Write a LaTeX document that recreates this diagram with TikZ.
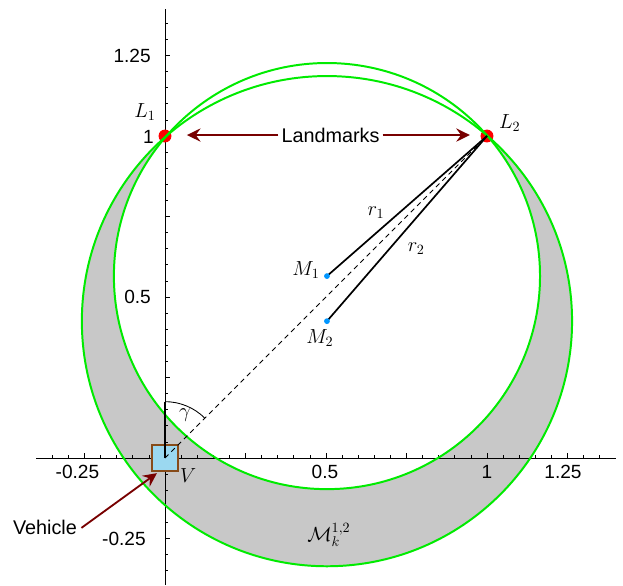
\documentclass[tikz,border=0pt]{standalone}
\usepackage{fontspec}
\newfontfamily\axisfont{Liberation Sans}
\usetikzlibrary{calc,arrows.meta}
\usepackage[dvipsnames]{xcolor}
\definecolor{crescent}{RGB}{200,200,200}
\definecolor{ringgreen}{RGB}{0,235,0}
\definecolor{pointred}{RGB}{120,0,0}
\definecolor{vehfill}{RGB}{155,216,240}
\definecolor{vehedge}{RGB}{135,75,25}
\definecolor{mdot}{RGB}{0,150,255}

\begin{document}
\begin{tikzpicture}[x=8cm,y=8cm,
    ring/.style={ringgreen,line width=1.4pt},
    pointer/.style={pointred,line width=1.3pt,-{Stealth[length=3.4mm,width=3.3mm,inset=1.2mm]}},
    ticklab/.style={font=\axisfont\fontsize{13.5}{16}\selectfont,inner sep=0pt},
    sanslab/.style={font=\axisfont\fontsize{14}{16}\selectfont},
    mathlab/.style={font=\fontsize{14.4}{17}\selectfont,inner sep=0pt}]
        \useasboundingbox (-0.5124,-0.3944) rectangle (1.4224,1.4224);
        \coordinate (v) at (0,0);
        \coordinate (l1) at (0,1);
        \coordinate (l2) at (1,1);
        \coordinate (m1) at (0.503,0.565);
        \coordinate (m2) at (0.503,0.425);
        \coordinate (g) at (0,0.175);
        \coordinate (t1) at (0.068,1.003);
        \coordinate (t2) at (0.947,1.003);
        \coordinate (t3) at (-0.025,-0.047);
        \fill[crescent] (m2) circle (0.7612);
        \fill[white] (m1) circle (0.6617);
        \draw[line width=0.6pt] (-0.4,0) -- (1.4,0);
        \draw[line width=0.6pt] (0,-0.3944) -- (0,1.395);
        \foreach \i in {-7,...,27} {
            \pgfmathsetmacro\len{ifthenelse(mod(\i,5)==0,0.017,0.01)}
            \draw[line width=0.5pt] (\i*0.05,0) -- ++(0,\len);
            \draw[line width=0.5pt] (0,\i*0.05) -- ++(\len,0);
        }
        \node[ticklab] (xa) at (-0.272,-0.0435) {-0.25};
        \node[ticklab] (xb) at (0.497,-0.0435) {0.5};
        \node[ticklab] (xc) at (1.0,-0.0435) {1};
        \node[ticklab] (xd) at (1.236,-0.0435) {1.25};
        \node[ticklab,anchor=east] (ya) at (-0.0435,1.248) {1.25};
        \node[ticklab,anchor=east] (yb) at (-0.034,0.997) {1};
        \node[ticklab,anchor=east] (yc) at (-0.043,0.5) {0.5};
        \node[ticklab,anchor=east] (yd) at (-0.059,-0.25) {-0.25};
        \fill[red] (l1) circle (0.02);
        \fill[red] (l2) circle (0.02);
        \draw[ring] (m2) circle (0.7612);
        \draw[ring] (m1) circle (0.6617);
        \draw[line width=1.2pt] (m1) -- (l2);
        \draw[line width=1.2pt] (m2) -- (l2);
        \fill[mdot] (m1) circle (0.009);
        \fill[mdot] (m2) circle (0.009);
        \draw[vehedge,line width=1.4pt,fill=vehfill] (-0.04,-0.04) rectangle (0.04,0.04);
        \draw[line width=0.6pt,dash pattern=on 3.5pt off 2.8pt] (v) -- (l2);
        \draw[line width=1.2pt] (v) -- (g);
        \draw[line width=0.6pt] (g) arc (90:45:0.175);
        \node[mathlab] (gl) at (0.062,0.134) {$\gamma$};
        \node[mathlab] (vl) at (0.072,-0.055) {$V$};
        \node[mathlab] (l1l) at (-0.062,1.0745) {$L_1$};
        \node[mathlab] (l2l) at (1.071,1.040) {$L_2$};
        \node[mathlab] (m1l) at (0.438,0.584) {$M_1$};
        \node[mathlab] (m2l) at (0.481,0.373) {$M_2$};
        \node[mathlab] (r1l) at (0.655,0.761) {$r_1$};
        \node[mathlab] (r2l) at (0.780,0.649) {$r_2$};
        \node[mathlab] (mk) at (0.509,-0.239) {$\mathcal{M}_k^{1,2}$};
        \node[sanslab,inner sep=2pt] (lm) at (0.514,1.003) {Landmarks};
        \draw[pointer] (lm.west) -- (t1);
        \draw[pointer] (lm.east) -- (t2);
        \node[sanslab,inner sep=3pt] (vt) at (-0.3727,-0.217) {Vehicle};
        \draw[pointer] (vt.east) -- (t3);
    \end{tikzpicture}
\end{document}
